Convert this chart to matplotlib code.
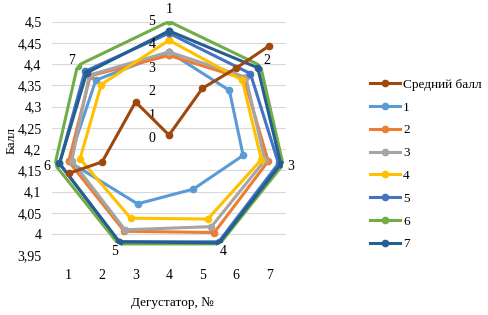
import numpy as np
import matplotlib
matplotlib.use("Agg")
import matplotlib.pyplot as plt
from matplotlib.transforms import offset_copy

plt.rcParams['font.family'] = ['Liberation Serif', 'DejaVu Serif']
plt.rcParams['font.size'] = 9

# ---- data ----
tasters = [1, 2, 3, 4, 5, 6, 7]
mean_score = [4.143, 4.17, 4.311, 4.233, 4.343, 4.39, 4.443]
y_ticks = [3.95, 4.0, 4.05, 4.1, 4.15, 4.2, 4.25, 4.3, 4.35, 4.4, 4.45, 4.5]
y_tick_labels = ["3,95", "4", "4,05", "4,1", "4,15", "4,2", "4,25", "4,3", "4,35", "4,4", "4,45", "4,5"]

radar_axes = ["1", "2", "3", "4", "5", "6", "7"]
radar_ticks = [0, 1, 2, 3, 4, 5]
s1 = [3.7, 3.3, 3.25, 2.4, 3.1, 4.4, 4.0]
s2 = [3.55, 4.1, 4.35, 4.46, 4.4, 4.4, 4.3]
s3 = [3.7, 4.2, 4.2, 4.18, 4.33, 4.26, 4.35]
s4 = [4.2, 4.0, 4.05, 3.82, 3.78, 3.9, 3.7]
s5 = [4.5, 4.45, 4.8, 4.9, 4.9, 4.8, 4.6]
s6 = [5, 5, 5, 5, 5, 5, 5]
s7 = [4.6, 4.85, 4.9, 4.95, 4.9, 4.8, 4.5]
series_names = ["1", "2", "3", "4", "5", "6", "7"]
series_vals = [s1, s2, s3, s4, s5, s6, s7]
colors = ["#5B9BD5", "#ED7D31", "#A5A5A5", "#FFC000", "#4472C4", "#70AD47", "#255E91"]
mean_color = "#9E480E"

W, H = 489, 315
fig = plt.figure(figsize=(W / 100, H / 100), dpi=100)
pos = [52 / W, (H - 255.5) / H, 234 / W, 234 / H]

# base axes: grid + ticks
ax = fig.add_axes(pos)
ax.set_xlim(0.5, 7.5)
ax.set_ylim(3.95, 4.5)
ax.set_yticks(y_ticks)
ax.set_yticklabels(y_tick_labels)
ax.set_xticks(tasters)
ax.set_xticklabels([str(t) for t in tasters])
ax.tick_params(length=0, pad=7.5, labelsize=10)
ax.tick_params(axis='x', pad=10)
ax.grid(axis='y', color="#D9D9D9", lw=0.8)
for s in ax.spines.values():
    s.set_visible(False)
fig.text(12 / W, 1 - 140 / H, "Балл", rotation=90, ha='center', va='center', fontsize=9.5)
fig.text(172 / W, 1 - 303 / H, "Дегустатор, №", ha='center', va='center', fontsize=9.5)

# radar
pax = fig.add_axes(pos, projection='polar')
pax.patch.set_alpha(0)
pax.set_theta_zero_location('N')
pax.set_theta_direction(-1)
pax.set_ylim(0, 5)
pax.grid(False)
pax.spines['polar'].set_visible(False)
pax.set_xticks([])
pax.set_yticks([])
n = len(radar_axes)
theta = np.arange(n) * 2 * np.pi / n
theta_c = np.append(theta, theta[0])
handles = []
for name, vals, c in zip(series_names, series_vals, colors):
    v = np.append(vals, vals[0])
    h, = pax.plot(theta_c, v, color=c, lw=2.2, marker='o', markersize=4.5, label=name)
    handles.append(h)
off = offset_copy(pax.transData, fig=fig, x=-17, y=0, units='dots')
for r in radar_ticks:
    pax.text(0, r, str(r), transform=off, ha='center', va='center', fontsize=10)
for t, lab in zip(theta, radar_axes):
    rr = 5.5 if lab == "1" else 5.35
    pax.text(t, rr, lab, ha='center', va='center', fontsize=10, clip_on=False)

# mean line on top
ax2 = fig.add_axes(pos)
ax2.patch.set_alpha(0)
ax2.set_xlim(0.5, 7.5)
ax2.set_ylim(3.95, 4.5)
ax2.axis('off')
hm, = ax2.plot(tasters, mean_score, color=mean_color, lw=2.2, marker='o', markersize=4.5,
               label="Средний балл")

fig.legend([hm] + handles, ["Средний балл"] + series_names,
           loc='center left', bbox_to_anchor=(370 / W, 1 - 164.5 / H),
           frameon=False, fontsize=9.5, handlelength=2.3, handletextpad=0.2,
           labelspacing=0.8, borderpad=0, borderaxespad=0)

fig.savefig("out.png", dpi=100)
